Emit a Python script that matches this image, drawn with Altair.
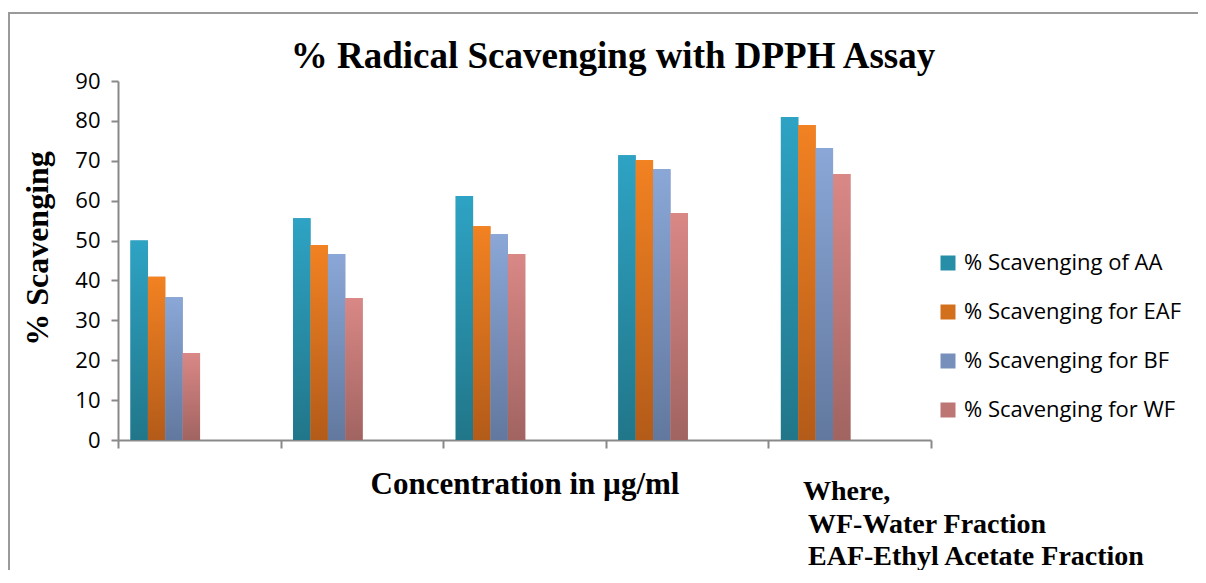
import altair as alt
import pandas as pd

# ---- data ----
groups = ["1", "2", "3", "4", "5"]
series = ["% Scavenging of AA", "% Scavenging for EAF", "% Scavenging for BF", "% Scavenging for WF"]
aa = [50.0, 55.6, 61.2, 71.4, 81.0]
eaf = [40.9, 48.9, 53.6, 70.2, 79.0]
bf = [35.8, 46.6, 51.6, 67.9, 73.2]
wf = [21.8, 35.6, 46.6, 56.9, 66.7]

title_text = "% Radical Scavenging with DPPH Assay"
note_lines = ["Where,", "WF-Water Fraction", "EAF-Ethyl Acetate Fraction"]

top_colors = ["#2EA3C4", "#F28222", "#8AA7D7", "#D98886"]
bottom_colors = ["#217689", "#B35B19", "#62789E", "#A16461"]
mid_colors = ["#278EA8", "#D3701E", "#768FBB", "#BD7674"]

# empty slots that keep each cluster at the left of its category (as in the reference)
empty_slots = ["_e1", "_e2", "_e3", "_e4"]

series_values = dict(zip(series, [aa, eaf, bf, wf]))
df = pd.DataFrame(
    [{"group": g, "series": s, "value": v}
     for s in series for g, v in zip(groups, series_values[s])]
)

W, H = 813, 359
AXIS_GREY = "#898989"

x_enc = alt.X(
    "group:N", sort=groups,
    scale=alt.Scale(domain=groups, paddingInner=0, paddingOuter=0),
    axis=alt.Axis(
        title="Concentration in µg/ml", labels=False, tickBand="extent",
        ticks=True, tickSize=8, tickColor=AXIS_GREY, tickWidth=2,
        domainColor=AXIS_GREY, domainWidth=2,
        titleFont="Liberation Serif", titleFontWeight="bold", titleFontSize=31,
        titleColor="black", titleX=W / 2, titleY=53,
        titleBaseline="alphabetic", titleAlign="center",
    ),
)
xoff_enc = alt.XOffset(
    "series:N", sort=series,
    scale=alt.Scale(domain=series + empty_slots, paddingInner=0, paddingOuter=0.675, align=0.532),
)
y_enc = alt.Y(
    "value:Q",
    scale=alt.Scale(domain=[0, 90], nice=False),
    axis=alt.Axis(
        values=list(range(0, 91, 10)), grid=False,
        tickSize=7, tickColor=AXIS_GREY, tickWidth=2,
        domainColor=AXIS_GREY, domainWidth=2,
        labelFont="Open Sans", labelFontSize=22, labelColor="black", labelPadding=11,
        title="% Scavenging", titleFont="Liberation Serif", titleFontWeight="bold",
        titleFontSize=32, titleColor="black", titleAngle=270,
        titleX=-71, titleY=167, titleAlign="center", titleBaseline="alphabetic",
    ),
)

base = alt.Chart(df).mark_bar().encode(
    x=x_enc, xOffset=xoff_enc, y=y_enc,
    color=alt.Color(
        "series:N", sort=series,
        scale=alt.Scale(domain=series, range=mid_colors),
        legend=alt.Legend(
            title=None, orient="none", legendX=819, legendY=171,
            symbolType="square", symbolSize=225, symbolStrokeWidth=0,
            labelFont="Open Sans", labelFontSize=22, labelColor="black",
            labelLimit=0, rowPadding=27, labelOffset=5, padding=0,
        ),
    ),
)

grad_layers = []
for s, top, bot in zip(series, top_colors, bottom_colors):
    grad_layers.append(
        alt.Chart(df).transform_filter(alt.datum.series == s).mark_bar(
            color=alt.Gradient(
                gradient="linear", x1=0, x2=0, y1=0, y2=1,
                stops=[alt.GradientStop(color=top, offset=0),
                       alt.GradientStop(color=bot, offset=1)],
            )
        ).encode(x=x_enc, xOffset=xoff_enc, y=y_enc)
    )

one = pd.DataFrame({"t": [title_text]})
title = alt.Chart(one).mark_text(
    font="Liberation Serif", fontWeight="bold", fontSize=37, color="black",
    align="center", baseline="alphabetic",
).encode(text="t:N", x=alt.value(495), y=alt.value(-13))

note_layers = []
for line, xx, yy in zip(note_lines, [685, 690, 690], [419, 452, 484]):
    note_layers.append(
        alt.Chart(pd.DataFrame({"t": [line]})).mark_text(
            font="Liberation Serif", fontWeight="bold", fontSize=28, color="black",
            align="left", baseline="alphabetic",
        ).encode(text="t:N", x=alt.value(xx), y=alt.value(yy))
    )

border = alt.Chart(one).mark_rect(
    fill="transparent", stroke="#9a9a9a", strokeWidth=2
).encode(x=alt.value(-109), x2=alt.value(1200), y=alt.value(-68), y2=alt.value(600))

chart = alt.layer(border, base, *grad_layers, title, *note_layers).properties(
    width=W, height=H,
    autosize=alt.AutoSizeParams(type="none"),
    padding={"left": 110, "top": 73, "right": 267, "bottom": 130},
).configure_view(stroke=None)

chart.save("out.html", embed_options={"renderer": "svg", "actions": False})
